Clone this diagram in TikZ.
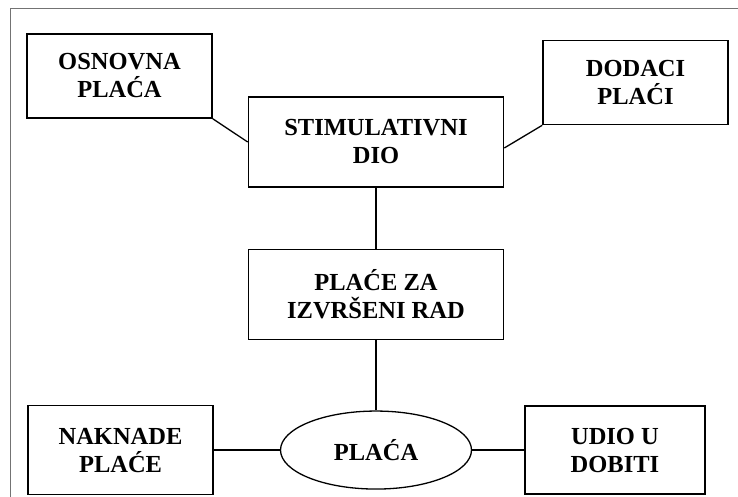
\documentclass[tikz,border=0pt]{standalone}
\usepackage{fontspec}
\setmainfont{Liberation Serif}
\usetikzlibrary{shapes.geometric, positioning}
\tikzstyle{sidebox} = [rectangle, minimum width=185pt, minimum height=84pt, text centered, align=center, draw=black, line width=1.6pt, font=\fontsize{24.5}{28}\selectfont\bfseries]
\tikzstyle{midbox} = [rectangle, minimum width=255pt, minimum height=90pt, text centered, align=center, draw=black, line width=1.6pt, font=\fontsize{24.5}{28}\selectfont\bfseries]
\tikzstyle{oval} = [ellipse, minimum width=191pt, minimum height=78pt, text centered, draw=black, line width=1.3pt, font=\fontsize{24.5}{28}\selectfont\bfseries]
\tikzstyle{link} = [line width=1.3pt]
\tikzstyle{frame} = [line width=0.8pt, draw=black!55]

\begin{document}
\begin{tikzpicture}[x=1pt, y=1pt, node distance=60pt]
\useasboundingbox (0,0) rectangle (738,-497);
\draw [frame] (738,-8) -- (10,-8) -- (10,-497);

\node (stim) [midbox] at (376,-142) {STIMULATIVNI\\DIO};
\node (rad) [midbox, below=61pt of stim] {PLA\'CE ZA\\IZVR\v{S}ENI RAD};
\node (placa) [oval, below=70pt of rad] {PLA\'CA};

\node (osnovna) [sidebox] at (119.5,-76) {OSNOVNA\\PLA\'CA};
\node (dodaci) [sidebox] at (635.5,-82.5) {DODACI\\PLA\'CI};
\node (naknade) [sidebox, minimum height=89pt, left=66pt of placa] {NAKNADE\\PLA\'CE};
\node (udio) [sidebox, minimum width=180pt, minimum height=88pt, right=52pt of placa] {UDIO U\\DOBITI};

\draw [link] (osnovna.south east) -- (stim.west);
\draw [link] (dodaci.south west) -- ([yshift=-6pt]stim.east);
\draw [link] (stim) -- (rad);
\draw [link] (rad) -- (placa);
\draw [link] (naknade) -- (placa);
\draw [link] (placa) -- (udio);

\end{tikzpicture}
\end{document}
